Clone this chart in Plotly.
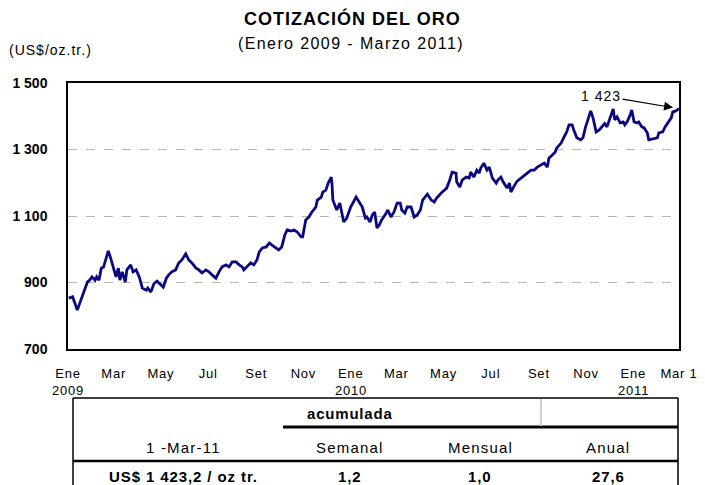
import plotly.graph_objects as go

# ---------------- data ----------------
dates = [
    "2009-01-02", "2009-01-07", "2009-01-13", "2009-01-18", "2009-01-22", "2009-01-26", "2009-01-29",
    "2009-02-01", "2009-02-05", "2009-02-07", "2009-02-10", "2009-02-13", "2009-02-16", "2009-02-22",
    "2009-02-25", "2009-02-28", "2009-03-04", "2009-03-07", "2009-03-09", "2009-03-12", "2009-03-16",
    "2009-03-18", "2009-03-23", "2009-03-26", "2009-03-30", "2009-04-03", "2009-04-07", "2009-04-12",
    "2009-04-14", "2009-04-18", "2009-04-22", "2009-04-26", "2009-05-01", "2009-05-04", "2009-05-08",
    "2009-05-11", "2009-05-15", "2009-05-20", "2009-05-24", "2009-05-28", "2009-06-02", "2009-06-06",
    "2009-06-10", "2009-06-15", "2009-06-19", "2009-06-23", "2009-06-28", "2009-07-02", "2009-07-06",
    "2009-07-11", "2009-07-15", "2009-07-19", "2009-07-24", "2009-07-28", "2009-08-01", "2009-08-06",
    "2009-08-10", "2009-08-14", "2009-08-16", "2009-08-20", "2009-08-25", "2009-08-29", "2009-09-02",
    "2009-09-05", "2009-09-09", "2009-09-14", "2009-09-18", "2009-09-21", "2009-09-27", "2009-09-30",
    "2009-10-04", "2009-10-08", "2009-10-11", "2009-10-16", "2009-10-20", "2009-10-24", "2009-10-29",
    "2009-10-31", "2009-11-04", "2009-11-08", "2009-11-12", "2009-11-17", "2009-11-19", "2009-11-24",
    "2009-11-26", "2009-11-30", "2009-12-03", "2009-12-07", "2009-12-08", "2009-12-09", "2009-12-14",
    "2009-12-18", "2009-12-23", "2009-12-27",
    "2010-01-01", "2010-01-05", "2010-01-08", "2010-01-12", "2010-01-16", "2010-01-20", "2010-01-22",
    "2010-01-26", "2010-01-29", "2010-02-01", "2010-02-04", "2010-02-07", "2010-02-10", "2010-02-16",
    "2010-02-18", "2010-02-22", "2010-02-26", "2010-03-02", "2010-03-06", "2010-03-08", "2010-03-12",
    "2010-03-15", "2010-03-20", "2010-03-24", "2010-03-28", "2010-04-01", "2010-04-04", "2010-04-10",
    "2010-04-15", "2010-04-19", "2010-04-22", "2010-04-28", "2010-05-02", "2010-05-05", "2010-05-09",
    "2010-05-12", "2010-05-17", "2010-05-18", "2010-05-22", "2010-05-25", "2010-05-30", "2010-06-03",
    "2010-06-05", "2010-06-09", "2010-06-13", "2010-06-16", "2010-06-18", "2010-06-22", "2010-06-26",
    "2010-06-29", "2010-07-03", "2010-07-08", "2010-07-10", "2010-07-14", "2010-07-17", "2010-07-22",
    "2010-07-25", "2010-07-27", "2010-07-31", "2010-08-04", "2010-08-09", "2010-08-13", "2010-08-17",
    "2010-08-22", "2010-08-26", "2010-08-30", "2010-09-04", "2010-09-08", "2010-09-12", "2010-09-14",
    "2010-09-18", "2010-09-22", "2010-09-24", "2010-09-30", "2010-10-03", "2010-10-07", "2010-10-10",
    "2010-10-14", "2010-10-16", "2010-10-20", "2010-10-25", "2010-10-28", "2010-10-31", "2010-11-03",
    "2010-11-07", "2010-11-10", "2010-11-14", "2010-11-18", "2010-11-22", "2010-11-25", "2010-11-28",
    "2010-12-02", "2010-12-06", "2010-12-08", "2010-12-11", "2010-12-15", "2010-12-19", "2010-12-21",
    "2010-12-24", "2010-12-28", "2010-12-30",
    "2011-01-02", "2011-01-06", "2011-01-08", "2011-01-12", "2011-01-15", "2011-01-19", "2011-01-21",
    "2011-01-26", "2011-02-01", "2011-02-03", "2011-02-08", "2011-02-11", "2011-02-15", "2011-02-19",
    "2011-02-21", "2011-02-25", "2011-03-01",
]
prices = [
    853, 857, 817, 847, 871, 901, 907,
    917, 907, 917, 907, 943, 947, 995,
    974, 947, 917, 943, 907, 932, 901,
    938, 953, 932, 938, 917, 883, 877,
    883, 871, 897, 904, 892, 886, 913,
    923, 932, 938, 959, 968, 986, 968,
    959, 944, 938, 929, 938, 932, 923,
    913, 932, 947, 953, 947, 962, 962,
    953, 947, 938, 947, 959, 953, 968,
    992, 1004, 1007, 1019, 1013, 1004, 998,
    1007, 1043, 1058, 1055, 1058, 1052, 1037,
    1037, 1088, 1097, 1112, 1127, 1148, 1157,
    1172, 1178, 1199, 1217, 1193, 1148, 1118,
    1139, 1082, 1094,
    1127, 1142, 1157, 1142, 1127, 1094, 1097,
    1082, 1103, 1112, 1064, 1073, 1088, 1109,
    1118, 1097, 1112, 1139, 1139, 1118, 1109,
    1127, 1127, 1097, 1103, 1118, 1148, 1166,
    1148, 1142, 1154, 1169, 1178, 1184, 1208,
    1232, 1229, 1202, 1187, 1208, 1217, 1214,
    1232, 1217, 1238, 1229, 1244, 1259, 1238,
    1247, 1214, 1199, 1208, 1217, 1202, 1184,
    1199, 1172, 1190, 1205, 1214, 1223, 1229,
    1238, 1238, 1247, 1253, 1259, 1247, 1274,
    1283, 1292, 1304, 1320, 1335, 1353, 1374,
    1374, 1359, 1335, 1329, 1335, 1365, 1389,
    1416, 1395, 1353, 1359, 1371, 1378, 1368,
    1398, 1422, 1389, 1398, 1380, 1383, 1374,
    1383, 1404, 1419,
    1383, 1380, 1383, 1368, 1365, 1350, 1329,
    1332, 1335, 1350, 1353, 1368, 1380, 1395,
    1413, 1416, 1423,
]

tick_dates = ["2009-01-01", "2009-03-01", "2009-05-01", "2009-07-01", "2009-09-01", "2009-11-01",
              "2010-01-01", "2010-03-01", "2010-05-01", "2010-07-01", "2010-09-01", "2010-11-01",
              "2011-01-01", "2011-03-01"]
tick_labels = ["Ene", "Mar", "May", "Jul", "Set", "Nov",
               "Ene", "Mar", "May", "Jul", "Set", "Nov",
               "Ene", "Mar 1"]
year_dates = ["2009-01-01", "2010-01-01", "2011-01-01"]
year_labels = ["2009", "2010", "2011"]
y_ticks = [700, 900, 1100, 1300, 1500]
y_labels = ["700", "900", "1 100", "1 300", "1 500"]

title = "COTIZACIÓN DEL ORO"
subtitle = "(Enero 2009 - Marzo 2011)"
unit = "(US$/oz.tr.)"
last_label = "1 423"

table_group = "acumulada"
table_header = ["1 -Mar-11", "Semanal", "Mensual", "Anual"]
table_values = ["US$ 1 423,2 / oz tr.", "1,2", "1,0", "27,6"]

# ---------------- layout helpers ----------------
OFF = 8                      # browser body margin
W, H = 705 - OFF, 485 - OFF
L, R, T, B = 68 - OFF, 679 - OFF, 83 - OFF, 349 - OFF
FONT = "Liberation Sans, Arial, sans-serif"


def px(x):
    return (x - OFF - L) / (R - L)


def py(y):
    return (B - (y - OFF)) / (B - T)


def ls(text, sp):
    return '<span style="letter-spacing:%.1fpx">%s</span>' % (sp, text)


fig = go.Figure()
fig.add_trace(go.Scatter(x=dates, y=prices, mode="lines",
                         line=dict(color="#0a0a80", width=2.8),
                         hoverinfo="skip", showlegend=False))

fig.update_layout(
    width=W, height=H,
    margin=dict(l=L, r=W - R, t=T, b=H - B, pad=0),
    paper_bgcolor="white", plot_bgcolor="white",
    font=dict(family=FONT, color="black"),
    showlegend=False,
    xaxis=dict(type="date", range=[tick_dates[0], tick_dates[-1]],
               tickvals=tick_dates, ticktext=[ls(t, 0.8) for t in tick_labels], tickangle=0,
               tickfont=dict(size=13, family=FONT), ticks="",
               ticklabelstandoff=12, automargin=False,
               showgrid=False, zeroline=False,
               showline=True, linecolor="black", linewidth=1.5, mirror=True),
    yaxis=dict(range=[700, 1500], tickvals=y_ticks, ticktext=y_labels,
               tickfont=dict(size=14, family=FONT, weight="bold"), ticks="",
               ticklabelstandoff=16, automargin=False,
               showgrid=True, gridcolor="#b4b4b4", griddash="dash", gridwidth=1,
               zeroline=False,
               showline=True, linecolor="black", linewidth=1.5, mirror=True),
)

annotations = [
    dict(text="<b>" + ls(title, 1.0) + "</b>", x=px(352), y=py(18), xref="paper", yref="paper",
         xanchor="center", yanchor="middle", showarrow=False,
         font=dict(size=18, family=FONT)),
    dict(text=ls(subtitle, 1.4), x=px(351), y=py(44), xref="paper", yref="paper",
         xanchor="center", yanchor="middle", showarrow=False,
         font=dict(size=16, family=FONT)),
    dict(text=ls(unit, 1.0), x=px(7), y=py(50), xref="paper", yref="paper",
         xanchor="left", yanchor="middle", showarrow=False,
         font=dict(size=14, family=FONT)),
    dict(text=ls(last_label, 1.0), x=dates[-1], y=prices[-1], xref="x", yref="y",
         showarrow=True, arrowhead=2, arrowsize=1.5, arrowwidth=1.2, arrowcolor="black",
         ax=-78, ay=-13, standoff=6, font=dict(size=14, family=FONT)),
]
for yd, yl in zip(year_dates, year_labels):
    annotations.append(dict(text=ls(yl, 0.8), x=yd, y=py(390), xref="x", yref="paper",
                            xanchor="center", yanchor="middle", showarrow=False,
                            font=dict(size=13, family=FONT)))

# table text
col_x = [183, 350, 480, 608]
annotations.append(dict(text="<b>" + ls(table_group, 0.8) + "</b>", x=px(350), y=py(413),
                        xref="paper", yref="paper", xanchor="center", yanchor="middle",
                        showarrow=False, font=dict(size=15, family=FONT)))
for cx, h in zip(col_x, table_header):
    annotations.append(dict(text=ls(h, 1.2), x=px(cx), y=py(447), xref="paper", yref="paper",
                            xanchor="center", yanchor="middle", showarrow=False,
                            font=dict(size=15, family=FONT)))
for cx, v in zip(col_x, table_values):
    annotations.append(dict(text="<b>" + ls(v, 0.9) + "</b>", x=px(cx), y=py(476),
                            xref="paper", yref="paper", xanchor="center", yanchor="middle",
                            showarrow=False, font=dict(size=15, family=FONT)))
fig.update_layout(annotations=annotations)


# table lines
def hline(x0, x1, y, w, color="black"):
    return dict(type="line", xref="paper", yref="paper", x0=px(x0), x1=px(x1),
                y0=py(y), y1=py(y), line=dict(color=color, width=w))


def vline(x, y0, y1, w, color="black"):
    return dict(type="line", xref="paper", yref="paper", x0=px(x), x1=px(x),
                y0=py(y0), y1=py(y1), line=dict(color=color, width=w))


shapes = [
    hline(73, 678, 398, 1.5),
    vline(73, 398, 490, 1.5),
    vline(678, 398, 490, 1.5),
    hline(283, 678, 427, 3),
    hline(73, 678, 461, 2.5),
    vline(541, 399, 426, 2, "#c8d0e0"),
]
fig.update_layout(shapes=shapes)

fig.write_html("out.html")
